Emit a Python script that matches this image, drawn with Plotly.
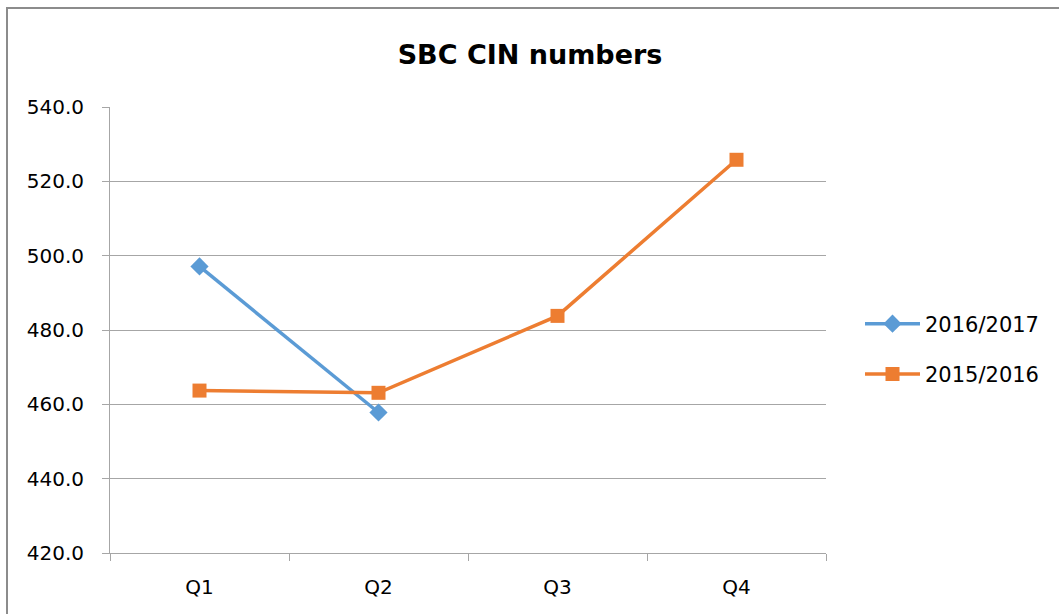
import plotly.graph_objects as go

quarters = ["Q1", "Q2", "Q3", "Q4"]
s2016_2017 = [497.1, 457.8, None, None]
s2015_2016 = [463.7, 463.1, 483.8, 525.8]
y_ticks = [420, 440, 460, 480, 500, 520, 540]

FONT = "DejaVu Sans"

fig = go.Figure()
fig.add_trace(go.Scatter(
    x=quarters, y=s2016_2017, name="2016/2017", mode="lines+markers",
    legendgroup="a",
    line=dict(color="#5B9BD5", width=3.5),
    marker=dict(symbol="diamond", size=14, color="#5B9BD5"),
))
fig.add_trace(go.Scatter(
    x=quarters, y=s2015_2016, name="2015/2016", mode="lines+markers",
    legendgroup="b",
    line=dict(color="#ED7D31", width=3.5),
    marker=dict(symbol="square", size=14, color="#ED7D31"),
))

W, H = 1059, 614
px0, px1, py0, py1 = 110, 826, 107, 553
L, R, T, B = px0, W - px1, py0, H - py1
pw, ph = px1 - px0, py1 - py0

def fx(x):
    return (x - px0) / pw

def fy(y):
    return (py1 - y) / ph

fig.update_layout(
    width=W, height=H,
    margin=dict(l=L, r=R, t=T, b=B),
    paper_bgcolor="white", plot_bgcolor="white",
    font=dict(family=FONT, size=20, color="#000000"),
    title=dict(text="<b>SBC CIN numbers</b>", x=fx(530), xref="paper",
               xanchor="center", y=1 - 55 / H, yanchor="middle",
               font=dict(family=FONT, size=27, color="#000000")),
    showlegend=True,
    legend=dict(x=fx(860), xanchor="left", y=fy(349), yanchor="middle",
                font=dict(family=FONT, size=21), tracegroupgap=20,
                itemwidth=55,
                traceorder="grouped", bgcolor="rgba(0,0,0,0)"),
    xaxis=dict(
        type="category", range=[-0.5, 3.5], tickson="boundaries",
        showgrid=False, showline=True, linecolor="#A6A6A6", linewidth=1,
        ticks="outside", ticklen=7, tickcolor="#A6A6A6",
        ticklabelstandoff=16,
        tickfont=dict(family=FONT, size=20), zeroline=False,
    ),
    yaxis=dict(
        range=[420, 540], tickvals=y_ticks, tickformat=".1f",
        showgrid=True, gridcolor="#A6A6A6", gridwidth=1,
        showline=True, linecolor="#A6A6A6", linewidth=1,
        ticks="outside", ticklen=7, tickcolor="#A6A6A6",
        ticklabelstandoff=14,
        tickfont=dict(family=FONT, size=20), zeroline=False,
    ),
    shapes=[dict(type="rect", xref="paper", yref="paper",
                 x0=fx(7), x1=fx(1075),
                 y0=fy(640), y1=fy(8),
                 line=dict(color="#8C8C8C", width=2), layer="below")],
)

fig.write_html("out.html",
               config={"displayModeBar": False},
               post_script="document.body.style.margin='0';document.body.style.overflow='hidden';")
